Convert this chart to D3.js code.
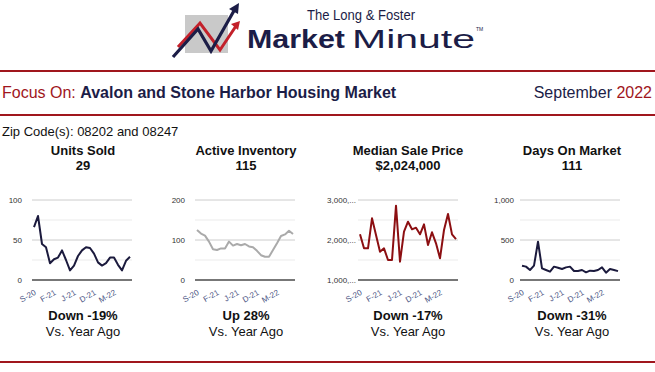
<!DOCTYPE html>
<html>
<head>
<meta charset="utf-8">
<script src="https://cdn.jsdelivr.net/npm/d3@7"></script>
<style>
  body { margin: 0; background: #fff; }
  text { font-family: Arial, "Liberation Sans", sans-serif; }
</style>
</head>
<body>
<svg id="page"></svg>
<script>
// month labels Sep 2020 .. Sep 2022
const months = ["S-20","O-20","N-20","D-20","J-21","F-21","M-21","A-21","M-21","J-21","J-21","A-21",
  "S-21","O-21","N-21","D-21","J-22","F-22","M-22","A-22","M-22","J-22","J-22","A-22","S-22"];

const unitsSold = [66,80,45,41,21,26,28,37,25,12,18,30,37,41,40,33,22,18,21,28,28,19,12,24,29];
const activeInventory = [125,116,111,96,77,75,79,79,96,86,90,87,90,84,82,73,62,58,58,75,92,110,114,123,115];
// thousands of dollars
const medianPrice = [2142,1792,1792,2542,2125,1708,1792,1500,1500,2858,1458,2208,2458,2267,2308,2142,2392,1875,2192,1917,1542,2250,2650,2142,2024];
const daysOnMarket = [179,167,125,179,479,146,125,104,167,154,137,158,167,112,112,125,96,117,112,125,158,92,137,125,111];

const panelTitles = ["Units Sold", "Active Inventory", "Median Sale Price", "Days On Market"];
const panelValues = ["29", "115", "$2,024,000", "111"];
const panelChanges = ["Down -19%", "Up 28%", "Down -17%", "Down -31%"];
const yDomains = [[0, 100], [0, 200], [1000, 3000], [0, 1000]];
const yTickValues = [[0, 50, 100], [0, 100, 200], [1000, 2000, 3000], [0, 500, 1000]];
const yTickLabels = [["0","50","100"], ["0","100","200"], ["1,000,...","2,000,...","3,000,..."], ["0","500","1,000"]];

const series = [unitsSold, activeInventory, medianPrice, daysOnMarket];
const lineColors = ["#1b1a3d", "#aaaaaa", "#8c0f12", "#1b1a3d"];

const W = 655, H = 372;
const navy = "#1c1d47", red = "#a0161d";

const svg = d3.select("#page").attr("width", W).attr("height", H);

// ---- logo ----
const logo = svg.append("g");
logo.append("rect").attr("x", 185).attr("y", 15).attr("width", 43).attr("height", 38).attr("fill", "#c9c9c9");
logo.append("path")
  .attr("d", "M178,47 L200,23 L220,50 L236,26")
  .attr("fill", "none").attr("stroke", "#c3202a").attr("stroke-width", 3);
logo.append("path").attr("d", "M240,21 L231,24 L238,30 Z").attr("fill", "#c3202a");
logo.append("path")
  .attr("d", "M173,57 L198,29 L211,51 L235,9")
  .attr("fill", "none").attr("stroke", navy).attr("stroke-width", 3.2);
logo.append("path").attr("d", "M239,3 L229,9 L238,14 Z").attr("fill", navy);

logo.append("text").attr("x", 307).attr("y", 20)
  .attr("font-size", 14).attr("fill", navy)
  .attr("textLength", 108).attr("lengthAdjust", "spacingAndGlyphs")
  .text("The Long & Foster");
logo.append("text").attr("x", 247).attr("y", 48)
  .attr("font-size", 26).attr("font-weight", "bold").attr("fill", navy)
  .attr("textLength", 98).attr("lengthAdjust", "spacingAndGlyphs")
  .text("Market");
logo.append("text").attr("x", 352).attr("y", 48)
  .attr("font-size", 26).attr("fill", navy)
  .attr("textLength", 123).attr("lengthAdjust", "spacingAndGlyphs")
  .text("Minute");
logo.append("text").attr("x", 476).attr("y", 31)
  .attr("font-size", 5).attr("fill", navy).text("TM");

// ---- rules ----
[71, 115, 362].forEach(y => {
  svg.append("line").attr("x1", 0).attr("x2", W).attr("y1", y).attr("y2", y)
    .attr("stroke", red).attr("stroke-width", 2);
});

// ---- header text ----
const focus = svg.append("text").attr("x", 2).attr("y", 98).attr("font-size", 16);
focus.append("tspan").attr("fill", red).text("Focus On: ");
focus.append("tspan").attr("fill", navy).attr("font-weight", "bold").text("Avalon and Stone Harbor Housing Market");

const date = svg.append("text").attr("x", 652).attr("y", 98).attr("font-size", 16).attr("text-anchor", "end");
date.append("tspan").attr("fill", navy).text("September ");
date.append("tspan").attr("fill", red).text("2022");

svg.append("text").attr("x", 2).attr("y", 136).attr("font-size", 13).attr("fill", "#111")
  .text("Zip Code(s): 08202 and 08247");

// ---- panels ----
const plotLefts = [32, 195, 358, 520];
const labelGaps = [10, 10, 2, 6];
const centers = [83, 246, 408, 572];
const plotW = 100, plotTop = 200, plotBottom = 280;

series.forEach((vals, k) => {
  const cx = centers[k];
  svg.append("text").attr("x", cx).attr("y", 155).attr("text-anchor", "middle")
    .attr("font-size", 13).attr("font-weight", "bold").attr("fill", "#111").text(panelTitles[k]);
  svg.append("text").attr("x", cx).attr("y", 170).attr("text-anchor", "middle")
    .attr("font-size", 13).attr("font-weight", "bold").attr("fill", "#111").text(panelValues[k]);
  svg.append("text").attr("x", cx).attr("y", 320).attr("text-anchor", "middle")
    .attr("font-size", 13).attr("font-weight", "bold").attr("fill", "#111").text(panelChanges[k]);
  svg.append("text").attr("x", cx).attr("y", 336).attr("text-anchor", "middle")
    .attr("font-size", 13).attr("fill", "#111").text("Vs. Year Ago");

  const g = svg.append("g").attr("transform", `translate(${plotLefts[k]},0)`);

  const x = d3.scaleLinear().domain([-0.5, vals.length - 0.5]).range([0, plotW]);
  const y = d3.scaleLinear().domain(yDomains[k]).range([plotBottom, plotTop]);

  // gridlines (quarters)
  const [y0, y1] = yDomains[k];
  const grid = d3.range(1, 5).map(i => y0 + (y1 - y0) * i / 4);
  g.selectAll(".grid").data(grid).enter().append("line")
    .attr("x1", 0).attr("x2", plotW)
    .attr("y1", d => y(d)).attr("y2", d => y(d))
    .attr("stroke", (d, i) => i % 2 === 1 ? "#cccccc" : "#ebebeb")
    .attr("stroke-width", 1);

  // y labels
  const yAxis = d3.axisLeft(y).tickValues(yTickValues[k])
    .tickFormat((d, i) => yTickLabels[k][i]).tickSize(0).tickPadding(labelGaps[k]);
  g.append("g").call(yAxis)
    .call(a => a.select(".domain").remove())
    .call(a => a.selectAll("text").attr("font-size", 8).attr("fill", "#333")
      .attr("font-family", "Arial, 'Liberation Sans', sans-serif"));

  // baseline
  g.append("line").attr("x1", 0).attr("x2", plotW)
    .attr("y1", plotBottom).attr("y2", plotBottom)
    .attr("stroke", "#777").attr("stroke-width", 2);

  // x labels
  const xAxis = d3.axisBottom(x).tickValues(d3.range(0, vals.length, 5))
    .tickFormat(i => months[i]).tickSize(0).tickPadding(0);
  g.append("g").attr("transform", `translate(0,${plotBottom})`).call(xAxis)
    .call(a => a.select(".domain").remove())
    .call(a => a.selectAll("text")
      .attr("font-size", 8).attr("fill", "#4d5584")
      .attr("font-family", "Arial, 'Liberation Sans', sans-serif")
      .attr("text-anchor", "end")
      .attr("dy", null).attr("y", 0)
      .attr("transform", "translate(2,14) rotate(-30)"));

  // line
  const line = d3.line().x((d, i) => x(i)).y(d => y(d));
  g.append("path").datum(vals).attr("d", line)
    .attr("fill", "none").attr("stroke", lineColors[k]).attr("stroke-width", 2)
    .attr("stroke-linejoin", "round");
});
</script>
</body>
</html>
